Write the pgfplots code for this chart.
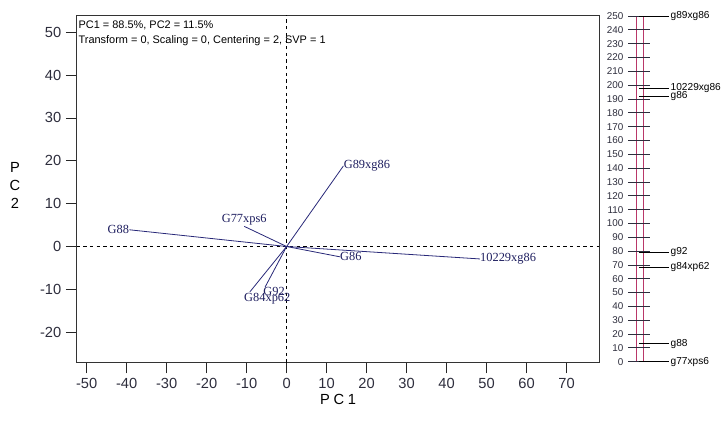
\documentclass[border=0pt]{standalone}
\usepackage{fontspec}
\setmainfont{Liberation Sans}
\newfontfamily\lserif{Liberation Serif}
\usepackage{pgfplots}
\pgfplotsset{compat=1.18}
\definecolor{vec}{RGB}{40,40,120}
\definecolor{scalered}{RGB}{185,55,105}
\definecolor{tickc}{RGB}{45,45,60}
\definecolor{labc}{RGB}{30,30,95}

\begin{document}
\begin{tikzpicture}[x=1pt,y=1pt]
\path[use as bounding box] (0,0) rectangle (543.75,321);
\begin{axis}[
  at={(57.5pt,49pt)}, anchor=south west, scale only axis,
  width=392pt, height=260.4pt,
  xmin=-52.5, xmax=78.2, ymin=-27.1, ymax=53.9,
  xtick={-50,-40,...,70}, ytick={-20,-10,...,50},
  tick align=outside, major tick length=8pt,
  xtick pos=bottom, ytick pos=left,
  tick style={black!85, line width=0.6pt},
  axis line style={line width=0.8pt, black!80},
  ticklabel style={font=\fontsize{11}{12}\selectfont, text=tickc},
  /pgf/number format/assume math mode=true,
  xlabel={P\hspace{0.25em}C\hspace{0.25em}1},
  xlabel style={font=\fontsize{11}{13}\selectfont, at={(axis description cs:0.5,-0.105)}, anchor=center},
  ylabel={P\\C\\2},
  ylabel style={font=\fontsize{11}{13.5}\selectfont, rotate=-90, align=center, at={(axis description cs:-0.118,0.51)}, anchor=center},
  clip=false,
]
\addplot[black, line width=0.6pt, dash pattern=on 2.5pt off 2.5pt] coordinates {(0,-27.1) (0,53.9)};
\addplot[black, line width=0.6pt, dash pattern=on 2.5pt off 2.5pt] coordinates {(-52.5,0) (78.2,0)};

\addplot[vec, line width=0.6pt] coordinates {(0,0) (-39.3,3.9)} node[pos=1, anchor=east, inner sep=0pt, text=labc, font=\lserif\fontsize{9.3}{10}\selectfont] {G88};
\addplot[vec, line width=0.6pt] coordinates {(0,0) (-10.6,4.7)} node[pos=1, anchor=south, inner sep=0.5pt, text=labc, font=\lserif\fontsize{9.3}{10}\selectfont] {G77xps6};
\addplot[vec, line width=0.6pt] coordinates {(0,0) (14.2,18.8)} node[pos=1, anchor=west, inner sep=0pt, text=labc, font=\lserif\fontsize{9.3}{10}\selectfont] {G89xg86};
\addplot[vec, line width=0.6pt] coordinates {(0,0) (13.3,-2.4)} node[pos=1, anchor=west, inner sep=0pt, text=labc, font=\lserif\fontsize{9.3}{10}\selectfont] {G86};
\addplot[vec, line width=0.6pt] coordinates {(0,0) (48.3,-2.9)} node[pos=1, anchor=west, inner sep=0pt, text=labc, font=\lserif\fontsize{9.3}{10}\selectfont] {10229xg86};
\addplot[vec, line width=0.6pt] coordinates {(0,0) (-5.4,-9.5)} node[pos=1, anchor=north west, inner sep=0pt, xshift=-1.5pt, text=labc, font=\lserif\fontsize{9.3}{10}\selectfont] {G92};
\addplot[vec, line width=0.6pt] coordinates {(0,0) (-9.2,-10.6)} node[pos=1, anchor=north west, inner sep=0pt, xshift=-4.5pt, yshift=-1pt, text=labc, font=\lserif\fontsize{9.3}{10}\selectfont] {G84xp62};

\node[anchor=north west, align=left, inner sep=0pt, font=\fontsize{8.2}{11.25}\selectfont] at ([xshift=1.3pt,yshift=-3.6pt]axis description cs:0,1) {PC1 = 88.5\%, PC2 = 11.5\%\\Transform = 0, Scaling = 0, Centering = 2, SVP = 1};
\end{axis}

\begin{axis}[
  at={(471pt,49.7pt)}, anchor=south west, scale only axis,
  width=16.5pt, height=259.3pt,
  xmin=-1, xmax=1, ymin=0, ymax=250,
  axis line style={draw=none},
  xtick=\empty, ytick={0,10,...,250},
  ytick pos=left, major tick length=0pt,
  yticklabel style={font=\fontsize{7.4}{8}\selectfont, text=tickc},
  /pgf/number format/assume math mode=true,
  clip=false,
]
\addplot[scalered, line width=0.6pt] coordinates {(-0.27,0) (0.39,0) (0.39,250) (-0.27,250) (-0.27,0)};
\addplot[xcomb, tickc, line width=0.6pt] coordinates {(-1,0) (-1,10) (-1,20) (-1,30) (-1,40) (-1,50) (-1,60) (-1,70) (-1,80) (-1,90) (-1,100) (-1,110) (-1,120) (-1,130) (-1,140) (-1,150) (-1,160) (-1,170) (-1,180) (-1,190) (-1,200) (-1,210) (-1,220) (-1,230) (-1,240) (-1,250)};
\addplot[xcomb, tickc, line width=0.6pt] coordinates {(1,0) (1,10) (1,20) (1,30) (1,40) (1,50) (1,60) (1,70) (1,80) (1,90) (1,100) (1,110) (1,120) (1,130) (1,140) (1,150) (1,160) (1,170) (1,180) (1,190) (1,200) (1,210) (1,220) (1,230) (1,240) (1,250)};
\addplot[xcomb, black, line width=0.6pt,
  nodes near coords, point meta=explicit symbolic,
  nodes near coords style={anchor=west, inner sep=0.8pt, font=\fontsize{7.6}{8}\selectfont, text=black}]
  table[meta=lab] {
x y lab
2.75 250 g89xg86
2.75 198 10229xg86
2.75 192 g86
2.75 79 g92
2.75 68.5 g84xp62
2.75 13 g88
2.75 0 g77xps6
};
\end{axis}
\end{tikzpicture}
\end{document}
